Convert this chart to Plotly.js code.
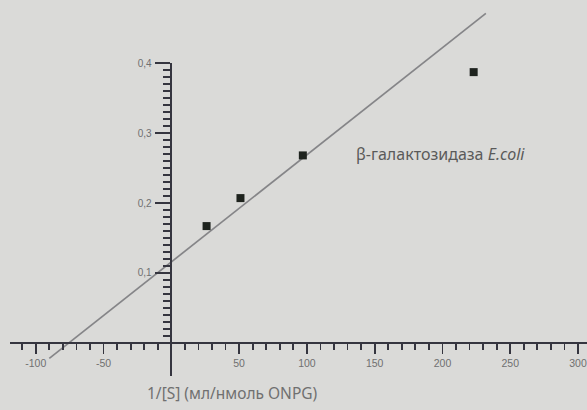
<!DOCTYPE html>
<html>
<head>
<meta charset="utf-8">
<script src="https://cdn.plot.ly/plotly-3.0.1.min.js"></script>
<style>html,body{margin:0;padding:0;background:#dadad8;}#chart{width:587px;height:410px;}</style>
</head>
<body>
<div id="chart"></div>
<script>
// Data
const invS = [26, 51, 97, 223];            // 1/[S]
const invV = [0.167, 0.207, 0.268, 0.387]; // 1/V
const fitX = [-90, 232];
const fitY = [-0.022, 0.471];

const xTickVals = [-100, -50, 50, 100, 150, 200, 250, 300];
const xTickText = ['-100', '-50', '50', '100', '150', '200', '250', '300'];
const yTickVals = [0.1, 0.2, 0.3, 0.4];
const yTickText = ['0,1', '0,2', '0,3', '0,4'];

const seriesLabel = 'β-галактозидаза <i>E.coli</i>';
const xTitle = '1/[S] (мл/нмоль ONPG)';

const axisColor = '#35353f';
const textColor = '#707070';

const traces = [
  {x: fitX, y: fitY, mode: 'lines', type: 'scatter', xaxis: 'x', yaxis: 'y',
   line: {color: '#858588', width: 1.7}, showlegend: false},
  {x: invS, y: invV, mode: 'markers', type: 'scatter', xaxis: 'x', yaxis: 'y',
   marker: {symbol: 'square', size: 8, color: '#1e231e'}, showlegend: false},
  {x: [null], y: [null], type: 'scatter', mode: 'markers', xaxis: 'x2', yaxis: 'y2', showlegend: false},
  {x: [null], y: [null], type: 'scatter', mode: 'markers', xaxis: 'x2', yaxis: 'y3', showlegend: false}
];

const layout = {
  width: 587, height: 410,
  margin: {l: 10, r: 0, t: 5, b: 30},
  paper_bgcolor: '#dadad8', plot_bgcolor: 'rgba(0,0,0,0)',
  font: {family: 'Liberation Sans, Arial, sans-serif', color: textColor},
  xaxis: {
    range: [-119, 306.6], anchor: 'free', position: 0.0987,
    showgrid: false, zeroline: false, showline: true, linecolor: axisColor, linewidth: 2,
    ticks: 'outside', ticklen: 10, tickwidth: 1.8, tickcolor: axisColor,
    tickmode: 'array', tickvals: xTickVals, ticktext: xTickText,
    tickfont: {size: 10.5, color: textColor}, ticklabeloverflow: 'allow',
    minor: {dtick: 10, tick0: 0, ticks: 'outside', ticklen: 6, tickwidth: 1.8, tickcolor: axisColor, showgrid: false}
  },
  xaxis2: {domain: [0.28, 1], range: [0, 1], visible: false, anchor: 'y2'},
  yaxis: {range: [-0.0529, 0.4829], domain: [0, 1], visible: false},
  yaxis2: {
    range: [0, 0.4], domain: [0.0987, 0.8453], anchor: 'x2', side: 'left',
    showgrid: false, zeroline: false, showline: true, linecolor: axisColor, linewidth: 2,
    ticks: 'outside', ticklen: 15, tickwidth: 2, tickcolor: axisColor,
    tickmode: 'array', tickvals: yTickVals, ticktext: yTickText,
    tickfont: {size: 10, color: textColor}, ticklabelstandoff: 1,
    minor: {dtick: 0.01, tick0: 0, ticks: 'outside', ticklen: 7, tickwidth: 2, tickcolor: axisColor, showgrid: false}
  },
  yaxis3: {
    range: [0, 1], domain: [0.0107, 0.0987], anchor: 'x2', side: 'left',
    showgrid: false, zeroline: false, showline: true, linecolor: axisColor, linewidth: 2,
    ticks: '', showticklabels: false
  },
  annotations: [
    {text: seriesLabel, xref: 'x', yref: 'y', x: 135, y: 0.27, xanchor: 'left', yanchor: 'middle',
     showarrow: false, font: {family: 'Noto Sans, sans-serif', size: 16, color: '#5a5a5a'}},
    {text: xTitle, xref: 'paper', yref: 'paper', x: 0.385, y: -0.035, xanchor: 'center', yanchor: 'middle',
     showarrow: false, font: {family: 'Noto Sans, sans-serif', size: 15.5, color: textColor}}
  ]
};

Plotly.newPlot('chart', traces, layout, {displayModeBar: false, staticPlot: true});
</script>
</body>
</html>
